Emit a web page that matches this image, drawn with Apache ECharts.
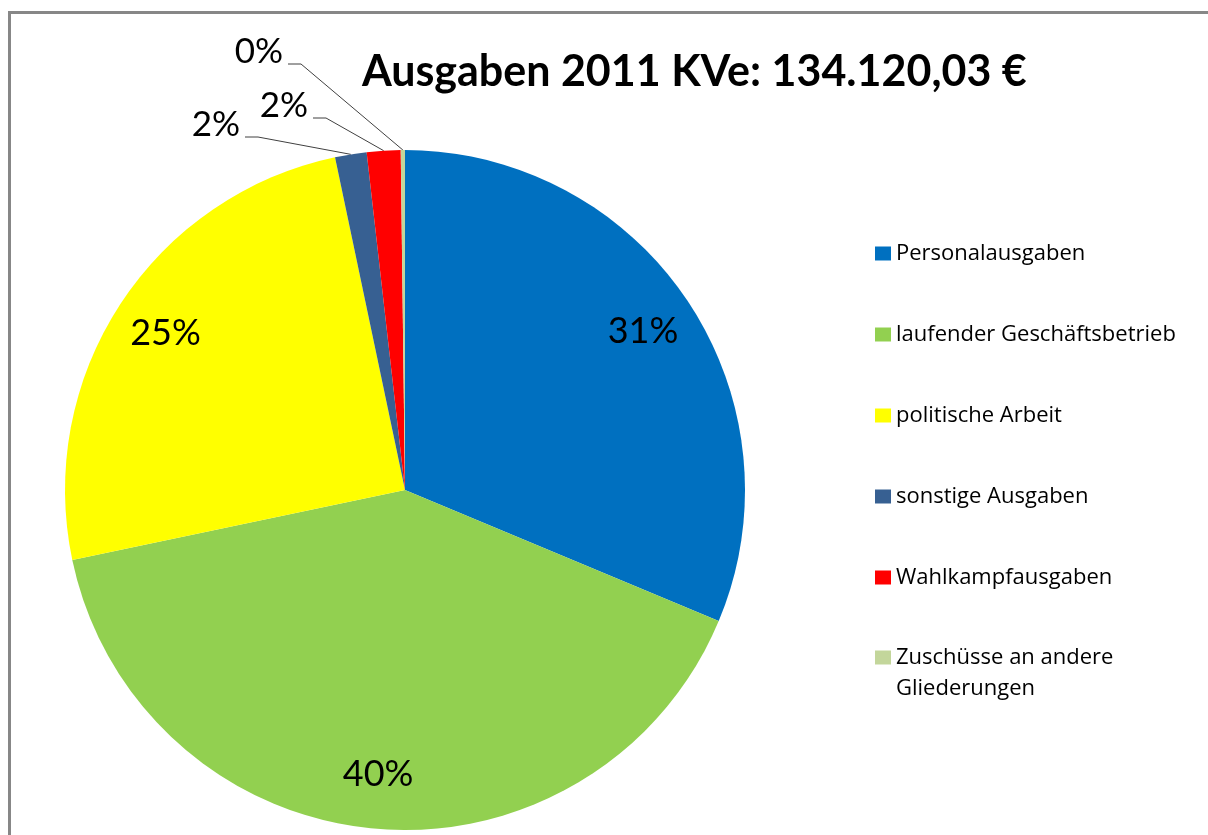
<!DOCTYPE html>
<html>
<head lang="de">
    <meta charset="UTF-8">
    <title>Ausgaben 2011</title>
    <style>
        html, body { margin: 0; padding: 0; background: #fff; overflow: hidden; }
        #frame { position: absolute; left: 8px; top: 11px; width: 1400px; height: 1000px;
                 border-top: 3px solid #878787; border-left: 3px solid #878787; }
        #container { position: absolute; left: 0; top: 0; width: 1208px; height: 835px; }
    </style>
</head>
<body>
<div id="frame"></div>
<div id="container"></div>
<script type="text/javascript" src="https://cdn.jsdelivr.net/npm/echarts@6/dist/echarts.min.js"></script>
<script type="text/javascript">
    // Anteile in Prozent
    var categories = ['Personalausgaben', 'laufender Geschäftsbetrieb', 'politische Arbeit',
        'sonstige Ausgaben', 'Wahlkampfausgaben', 'Zuschüsse an andere Gliederungen'];
    var values = [31.3, 40.4, 25.0, 1.5, 1.6, 0.2];
    var colors = ['#0070C0', '#92D050', '#FFFF00', '#376092', '#FF0000', '#C3D69B'];
    var legendTexts = ['Personalausgaben', 'laufender Geschäftsbetrieb', 'politische Arbeit',
        'sonstige Ausgaben', 'Wahlkampfausgaben', '\nZuschüsse an andere\nGliederungen'];
    var titleText = 'Ausgaben 2011 KVe: 134.120,03 €';

    // Position der kleinen Beschriftungen (rechter Rand, Mitte)
    var smallLabelAnchor = {
        'sonstige Ausgaben': [240, 125],
        'Wahlkampfausgaben': [308, 106],
        'Zuschüsse an andere Gliederungen': [283, 52]
    };

    var font = 'Lato, "Open Sans", sans-serif';
    var legendFont = '"Open Sans", Lato, sans-serif';
    var dom = document.getElementById("container");
    var myChart = echarts.init(dom, null, {renderer: 'canvas'});

    var pieData = categories.map(function (name, i) {
        return {
            name: name,
            value: values[i],
            itemStyle: {color: colors[i]},
            label: {show: values[i] < 5},
            labelLine: {show: values[i] < 5}
        };
    });
    var bigData = categories.map(function (name, i) {
        return {
            name: name,
            value: values[i],
            label: {show: values[i] >= 5}
        };
    });

    function legendFormatter(name) {
        return legendTexts[categories.indexOf(name)];
    }

    var legendBase = {
        orient: 'vertical',
        left: 875,
        padding: 0,
        itemWidth: 16,
        itemHeight: 14,
        itemGap: 50,
        icon: 'rect',
        selectedMode: false,
        formatter: legendFormatter,
        textStyle: {fontFamily: legendFont, fontSize: 22, color: '#000', lineHeight: 31}
    };

    var option = {
        backgroundColor: 'transparent',
        animation: false,
        title: {
            text: titleText,
            left: 362,
            top: 51,
            padding: 0,
            textStyle: {fontFamily: font, fontWeight: 'bold', fontSize: 43, color: '#000'}
        },
        legend: [
            echarts.util.extend({top: 238, data: categories.slice(0, 5)}, legendBase),
            echarts.util.extend({top: 611, data: categories.slice(5)}, legendBase)
        ],
        series: [
            {
                type: 'pie',
                center: [405, 490],
                radius: 340,
                startAngle: 90,
                clockwise: true,
                silent: true,
                data: pieData,
                label: {
                    position: 'outside',
                    formatter: function (p) { return Math.round(p.percent) + '%'; },
                    fontFamily: font,
                    fontSize: 35,
                    color: '#000'
                },
                labelLine: {lineStyle: {color: '#404040', width: 1}},
                labelLayout: function (params) {
                    var a = smallLabelAnchor[categories[params.dataIndex]];
                    if (!a || !params.labelLinePoints) {
                        return {};
                    }
                    var edge = params.labelLinePoints[0];
                    return {
                        x: a[0],
                        y: a[1],
                        align: 'right',
                        verticalAlign: 'middle',
                        labelLinePoints: [edge, [a[0] + 18, a[1] + 12], [a[0] + 5, a[1] + 12]]
                    };
                }
            },
            {
                type: 'pie',
                center: [405, 490],
                radius: [226, 340],
                startAngle: 90,
                clockwise: true,
                silent: true,
                z: 3,
                data: bigData,
                itemStyle: {color: 'rgba(0,0,0,0)'},
                label: {
                    position: 'inside',
                    formatter: function (p) { return Math.round(p.percent) + '%'; },
                    fontFamily: font,
                    fontSize: 36,
                    color: '#000'
                },
                labelLine: {show: false}
            }
        ]
    };
    myChart.setOption(option);
</script>
</body>
</html>
